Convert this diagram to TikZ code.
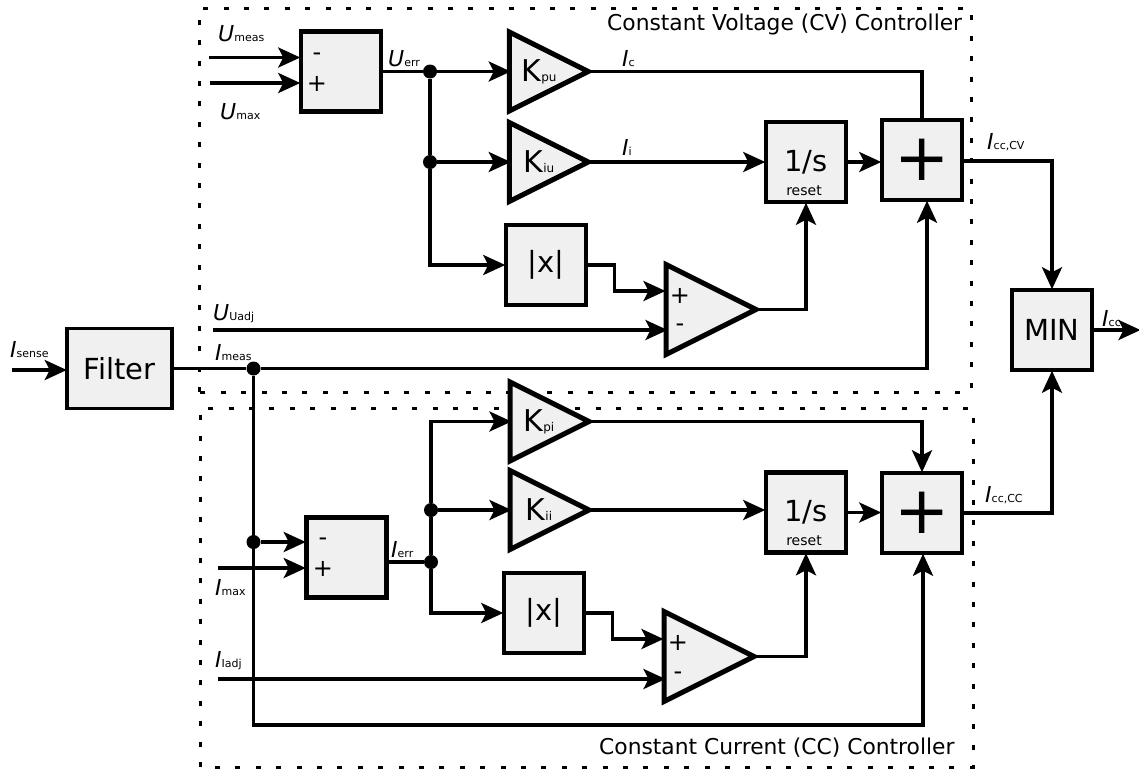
\documentclass[tikz,border=0pt]{standalone}
\usepackage{fontspec}
\setmainfont{DejaVu Sans}
\usepackage{tikz}
\usetikzlibrary{shapes.geometric, arrows.meta, positioning}

\newcommand{\sig}[2]{{\fontsize{22}{24}\selectfont\itshape #1}{\fontsize{11}{12}\selectfont #2}}
\newcommand{\gain}[2]{\hspace*{9pt}{\fontsize{30}{32}\selectfont #1}{\fontsize{12}{13}\selectfont #2}}

\begin{document}
\begin{tikzpicture}[
        x=1pt, y=-1pt,
        block/.style={rectangle, draw, line width=4.5pt, fill=gray!12, minimum width=80pt, minimum height=80pt, inner sep=0pt, font=\fontsize{29}{31}\selectfont},
        filterblock/.style={block, line width=3.5pt, minimum width=105pt, minimum height=80pt},
        amp/.style={isosceles triangle, isosceles triangle stretches, shape border rotate=0, draw, line width=5pt, fill=gray!12, inner sep=0pt, outer sep=0pt, minimum width=79pt, minimum height=79pt},
        cmp/.style={amp, minimum width=90pt, minimum height=90pt},
        junction/.style={circle, fill=black, minimum size=14pt, inner sep=0pt},
        arr/.style={-{Stealth[length=22pt, width=20pt, inset=5pt]}, line width=3.3pt, shorten >=-1.5pt},
        wire/.style={line width=3.3pt},
        frame/.style={line width=3pt, dash pattern=on 5pt off 15.4pt},
        sigtxt/.style={anchor=base west, inner sep=0pt},
        sign/.style={inner sep=0pt, font=\fontsize{24}{26}\selectfont},
        title/.style={anchor=base west, inner sep=0pt, font=\fontsize{21.8}{24}\selectfont},
    ]
        \useasboundingbox (0,0) rectangle (1139,769);

        % Frames
        \draw[frame] (199.5,392) -- (199.5,8) -- (971,8) -- (971,392) -- cycle;
        \draw[frame] (200,767) -- (200,408) -- (973,408) -- (973,767) -- cycle;
        \node[title] (cvtitle) at (607,30) {Constant Voltage (CV) Controller};
        \node[title] (cctitle) at (599,754) {Constant Current (CC) Controller};

        % Filter and min
        \node[filterblock] (filter) at (119.5,368.5) {Filter};
        \node[block] (minblk) at (1052,330) {MIN};

        % CV controller
        \node[block] (subu) at (341,71.5) {};
        \node[amp, right=126pt of subu] (kpu) {\gain{K}{pu}};
        \node[amp, below=90.5pt of kpu.west, anchor=west] (kiu) {\gain{K}{iu}};
        \node[block] (intu) at (806,162) {1/s};
        \node[block] (plusu) at (922,160) {\fontsize{66}{66}\selectfont +};
        \node[block] (absu) at (546,265) {|x|};
        \node[cmp, anchor=west] (cmpu) at (666,309.5) {};

        % CC controller
        \node[block] (subi) at (346.5,557.5) {};
        \node[amp, anchor=west] (kpi) at (510,421.5) {\gain{K}{pi}};
        \node[amp, below=88.5pt of kpi.west, anchor=west] (kii) {\gain{K}{ii}};
        \node[block] (inti) at (806,512.5) {1/s};
        \node[block] (plusi) at (922,513) {\fontsize{66}{66}\selectfont +};
        \node[block] (absi) at (544,613) {|x|};
        \node[cmp, anchor=west] (cmpi) at (664,656.5) {};

        % Signs
        \node[sign] (subuminus) at (317,57) {-};
        \node[sign] (subuplus) at (317,84) {+};
        \node[sign] (subiminus) at (323,542) {-};
        \node[sign] (subiplus) at (323,569) {+};
        \node[sign] (cmpuplus) at (680,296) {+};
        \node[sign] (cmpuminus) at (680,328) {-};
        \node[sign] (cmpiplus) at (678,643) {+};
        \node[sign] (cmpiminus) at (678,676) {-};
        \node[inner sep=0pt, font=\fontsize{14}{16}\selectfont] (resetu) at (804,191) {reset};
        \node[inner sep=0pt, font=\fontsize{14}{16}\selectfont] (reseti) at (804,541) {reset};

        % Junctions
        \node[junction] (juerr) at (430,71.5) {};
        \node[junction] (juint) at (430,162) {};
        \node[junction] (jmeas) at (253.5,368.5) {};
        \node[junction] (jmeaslow) at (253.5,542) {};
        \node[junction] (jierr) at (431,562) {};
        \node[junction] (jiint) at (431,510) {};

        % Free ends
        \coordinate (isense) at (12,370);
        \coordinate (umeas) at (209,57.5);
        \coordinate (umax) at (210,83);
        \coordinate (uadj) at (213,330);
        \coordinate (imax) at (218,568);
        \coordinate (iadj) at (218,679);
        \coordinate (icc) at (1139,330);

        % Labels
        \node[sigtxt] (lsense) at (10,357) {\sig{I}{sense}};
        \node[sigtxt] (lumeas) at (218,41) {\sig{U}{meas}};
        \node[sigtxt] (lumax) at (220,119) {\sig{U}{max}};
        \node[sigtxt] (luerr) at (388,66) {\sig{U}{err}};
        \node[sigtxt] (lic) at (622,66) {\sig{I}{c}};
        \node[sigtxt] (lii) at (622,155) {\sig{I}{i}};
        \node[sigtxt] (luadj) at (213,320) {\sig{U}{Uadj}};
        \node[sigtxt] (limeas) at (215,360) {\sig{I}{meas}};
        \node[sigtxt] (limax) at (215,595) {\sig{I}{max}};
        \node[sigtxt] (liadj) at (215,667) {\sig{I}{Iadj}};
        \node[sigtxt] (lierr) at (391,557) {\sig{I}{err}};
        \node[sigtxt] (liccv) at (987,149) {\sig{I}{cc,CV}};
        \node[sigtxt] (licci) at (985,502) {\sig{I}{cc,CC}};
        \node[sigtxt] (licc) at (1102,326) {\sig{I}{cc}};

        % Arrows
        \draw[arr] (isense) -- (isense -| filter.west);
        \draw[wire] (filter.east) -- (jmeas);
        \draw[arr] (jmeas) -| ([xshift=5pt]plusu.south);
        \draw[arr] (jmeas) -- ++(0,356.5) -| ([xshift=1pt]plusi.south);
        \draw[arr] (umeas) -- (umeas -| subu.west);
        \draw[arr] (umax) -- (umax -| subu.west);
        \draw[wire] (subu.east) -- (juerr);
        \draw[arr] (juerr) -- (kpu.west);
        \draw[arr] (juint) -- (kiu.west);
        \draw[wire] (juerr) -- (juint);
        \draw[arr] (juint) |- (absu.west);
        \draw[wire] (kpu.apex) -| (plusu.north);
        \draw[arr] (kiu.apex) -- (intu.west);
        \draw[arr] (intu.east) -- (intu.east -| plusu.west);
        \draw[arr] (absu.east) -- ++(26,0) |- (664,291);
        \draw[arr] (uadj) -- (uadj -| cmpu.west);
        \draw[arr] (cmpu.apex) -| (intu.south);
        \draw[arr] ([yshift=-1pt]plusu.east) -| (minblk.north);
        \draw[arr] (plusi.east) -| (minblk.south);
        \draw[arr] (minblk.east) -- (icc);

        \draw[arr] (jmeaslow) -- (jmeaslow -| subi.west);
        \draw[arr] (imax) -- (imax -| subi.west);
        \draw[wire] (jierr -| subi.east) -- (jierr);
        \draw[wire] (jierr) -- (jiint);
        \draw[arr] (jiint) |- (kpi.west);
        \draw[arr] (jiint) -- (kii.west);
        \draw[arr] (jierr) |- (absi.west);
        \draw[arr] (kpi.apex) -| (plusi.north);
        \draw[arr] (kii.apex) -- (kii.apex -| inti.west);
        \draw[arr] (inti.east) -- (inti.east -| plusi.west);
        \draw[arr] (absi.east) -- ++(26,0) |- (662,639);
        \draw[arr] (iadj) -- (iadj -| cmpi.west);
        \draw[arr] (cmpi.apex) -| (inti.south);
    \end{tikzpicture}
\end{document}
